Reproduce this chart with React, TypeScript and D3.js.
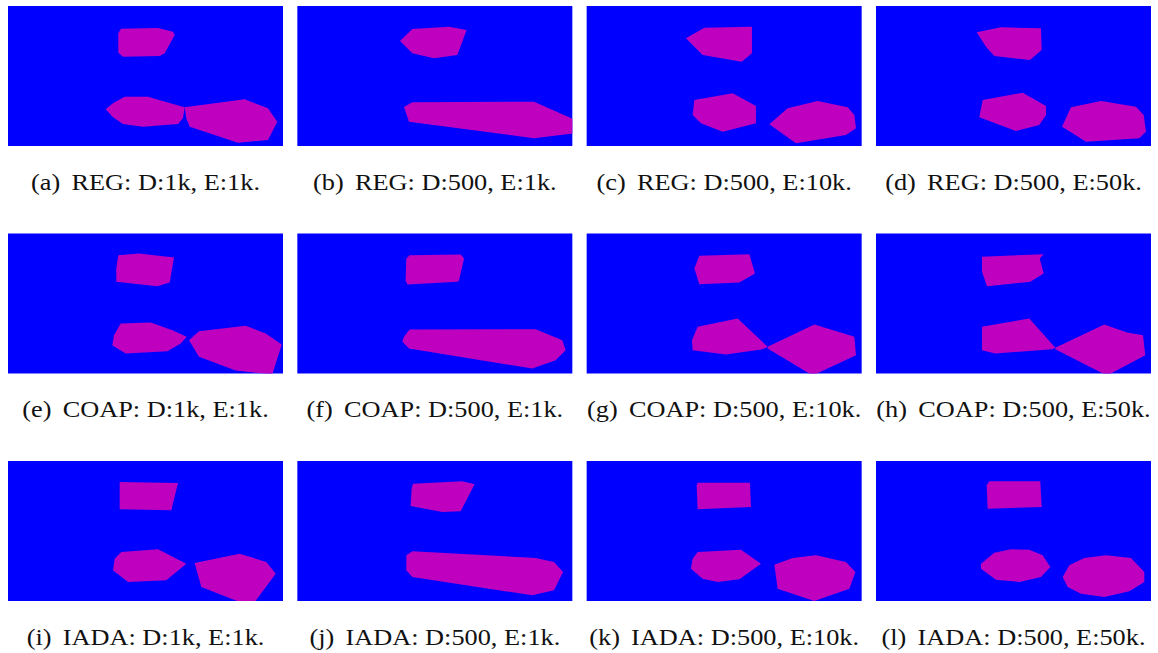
import React, { useEffect, useRef } from "react";
import * as d3 from "d3";

type Pt = [number, number];

// panel captions
const labels = ["a", "b", "c", "d", "e", "f", "g", "h", "i", "j", "k", "l"];
const methods = ["REG", "COAP", "IADA"];
const settings = ["D:1k, E:1k.", "D:500, E:1k.", "D:500, E:10k.", "D:500, E:50k."];

// polygon outlines in panel units (0..275 wide, 0..140 high)
const shapesA: Pt[][] = [
  [[113, 22.7], [150, 22], [165, 25.7], [166.7, 29], [156.7, 47.3], [151.7, 50], [115, 50.7], [110.3, 46.7], [110.3, 27.3]],
  [[97.7, 103.3], [105, 97.3], [116.7, 90.7], [140, 90.7], [148.3, 93.3], [176.7, 101.3], [175, 112.3], [170, 118], [135, 120.7], [115, 118], [105, 111.3]],
  [[176.7, 101.3], [236.7, 93.3], [260, 102.3], [269.3, 115.7], [260, 134], [230, 136.7], [181.7, 120.7], [178.3, 112.3]],
];
const shapesB: Pt[][] = [
  [[102.7, 35], [115, 23], [151.7, 20.7], [169.3, 24], [160, 49], [136.7, 52.3], [115, 47.3]],
  [[106.7, 101], [115, 96.3], [236.7, 95.7], [278, 114], [278, 127.3], [236.7, 132.3], [111.7, 115.7]],
];
const shapesC: Pt[][] = [
  [[99.3, 32.3], [117.7, 21.7], [165.3, 20.7], [165.3, 47.3], [155, 55.7], [116, 49]],
  [[107.7, 94], [146, 87.3], [169.3, 100], [169.3, 117.3], [136, 125.7], [114.3, 117.3], [106, 109]],
  [[182.7, 118.3], [201, 102.3], [231, 95], [261, 101.3], [267.7, 109], [269.3, 122.3], [259.3, 129], [209.3, 137.3]],
];
const shapesD: Pt[][] = [
  [[100.7, 26.3], [125, 21.3], [165, 22.3], [165.7, 44], [154, 54], [118.3, 50], [110, 40.7]],
  [[106.7, 94], [146.7, 86.7], [170, 100], [170, 109], [163.3, 119], [140, 125], [103.3, 111.3]],
  [[186, 120.7], [195, 101.3], [225, 95], [260, 100.7], [267.7, 109], [270, 125.7], [263.3, 132.3], [210, 135.7], [196.7, 127.3]],
];
const shapesE: Pt[][] = [
  [[110.3, 21.7], [131, 20], [166, 24], [161.7, 49], [149.3, 52.7], [108.3, 48.3], [108.3, 35]],
  [[112.7, 90], [142.7, 89], [164.3, 96.7], [178.7, 103.3], [172.7, 110], [159.3, 117.7], [117.7, 120], [104.3, 111.7], [106, 101.7]],
  [[181, 106.7], [191, 97.7], [237.7, 92.3], [257.7, 100], [273.7, 111], [264.3, 141], [227.7, 137], [191, 123.3]],
];
const shapesF: Pt[][] = [
  [[112.3, 21.7], [163.3, 21], [166.7, 25], [161.7, 46.7], [160, 48.3], [110, 51], [108.3, 46.7], [109, 25]],
  [[106.7, 103.3], [112.3, 96], [238.3, 95.7], [265, 106.7], [268.3, 116.7], [258.3, 126.7], [235, 135], [111.7, 115], [105, 108.3]],
];
const shapesG: Pt[][] = [
  [[112.7, 22.3], [162.7, 20.7], [168.3, 40], [152.7, 49], [112.7, 50.7], [107.7, 35]],
  [[111, 93.3], [151, 85], [181, 113.3], [176, 115.7], [139.3, 121], [106, 116.7], [105.3, 106.7]],
  [[181, 113.3], [227.7, 91], [267.7, 103.3], [269.3, 121.7], [226, 142], [181, 115]],
];
const shapesH: Pt[][] = [
  [[106, 23.3], [167.7, 20.7], [163.7, 25], [167.7, 40], [154.3, 48.3], [111, 52.7], [106, 38.3]],
  [[106, 93.3], [153.3, 85], [179.3, 114.3], [176, 115.7], [119.3, 120], [106, 116.7]],
  [[179.3, 114.3], [228.3, 91], [251, 99], [267, 101.7], [269.3, 121.7], [231, 142], [179.3, 115.7]],
];
const shapesI: Pt[][] = [
  [[111.7, 21], [170, 22], [163.3, 49.3], [111.7, 48.3]],
  [[113.3, 91], [150, 88.3], [178.3, 102.7], [158.3, 119.3], [120, 121], [105, 109.3], [106.7, 97.7]],
  [[186.7, 102], [231.7, 92.7], [258.3, 101], [267.7, 112.7], [246.7, 141], [231.7, 141], [193.3, 126]],
];
const shapesJ: Pt[][] = [
  [[115.7, 22.7], [165, 20.3], [177.3, 23.3], [163.3, 50.3], [145, 51], [113.3, 45], [114.3, 27.7]],
  [[115, 90.3], [238.3, 97], [256.7, 101], [265.7, 111], [256.7, 129.3], [235, 134.3], [115, 116], [109, 109.3], [109, 94.3]],
];
const shapesK: Pt[][] = [
  [[111, 21.7], [163.3, 21.7], [164.3, 46], [111, 48.3], [110, 24.3]],
  [[111, 91], [154.3, 88.7], [174.3, 102.7], [152.7, 118.3], [131, 121], [116, 117.7], [104.3, 107.7], [106, 97.7]],
  [[187.7, 103.7], [206, 97], [229.3, 94.3], [259.3, 101], [268.7, 111], [262.7, 127.7], [227.7, 140], [191, 127.7]],
];
const shapesL: Pt[][] = [
  [[113.3, 20.3], [164.3, 20.3], [165.7, 46], [111.7, 47.7], [110.7, 24.3]],
  [[105, 102.7], [118.3, 91.7], [135, 88.3], [153.3, 88.7], [166.7, 94.3], [174.3, 106], [165, 116], [143.3, 121], [120, 118.7], [105, 107.7]],
  [[186.7, 116], [193.3, 104.3], [208.3, 97], [230, 94.3], [255, 97], [268.3, 111], [268.3, 121], [253.3, 130.3], [228.3, 136], [205, 132.7], [191.7, 126]],
];

const panelShapes = [shapesA, shapesB, shapesC, shapesD, shapesE, shapesF, shapesG, shapesH, shapesI, shapesJ, shapesK, shapesL];

export default function App() {
  const ref = useRef<SVGSVGElement>(null);

  useEffect(() => {
    const pw = 275, ph = 140;
    const svg = d3.select(ref.current);
    svg.selectAll("*").remove();

    const col = d3.scaleBand<number>().domain([0, 1, 2, 3]).range([8, 1151]).paddingInner(0.0495);
    const row = d3.scaleLinear().domain([0, 2]).range([6, 461]);
    const x = d3.scaleLinear().domain([0, 275]).range([0, pw]);
    const y = d3.scaleLinear().domain([0, 140]).range([0, ph]);
    const line = d3.line<Pt>().x(d => x(d[0])).y(d => y(d[1])).curve(d3.curveLinearClosed);

    const defs = svg.append("defs");

    panelShapes.forEach((shapes, i) => {
      const c = i % 4, r = Math.floor(i / 4);
      const g = svg.append("g").attr("transform", `translate(${col(c)},${row(r)})`);

      defs.append("clipPath").attr("id", "clip" + i)
        .append("rect").attr("width", pw).attr("height", ph);

      g.append("rect").attr("width", pw).attr("height", ph).attr("fill", "#0000ff");

      g.append("g").attr("clip-path", `url(#clip${i})`)
        .selectAll("path")
        .data(shapes)
        .enter().append("path")
        .attr("d", d => line(d))
        .attr("fill", "#bf00bf");

      // caption, slightly widened like the original
      const t = g.append("text")
        .attr("transform", `translate(${pw / 2},${ph + 43.5}) scale(1.12,1)`)
        .attr("text-anchor", "middle")
        .style("font-family", "'Liberation Serif', 'Times New Roman', serif")
        .style("font-size", "23.5px")
        .attr("fill", "#111");
      t.append("tspan").text(`(${labels[i]})`);
      t.append("tspan").attr("dx", 10).text(`${methods[r]}: ${settings[c]}`);
    });
  }, []);

  return (
    <svg ref={ref} width={1158} height={653}
      style={{ position: "absolute", left: 0, top: 0, background: "#fff" }} />
  );
}
